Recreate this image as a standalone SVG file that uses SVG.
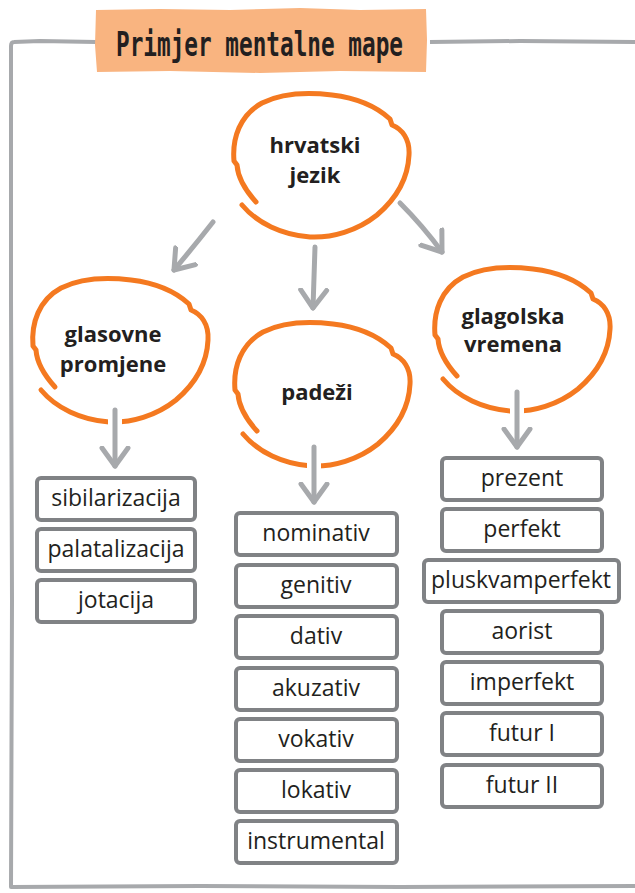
<svg xmlns="http://www.w3.org/2000/svg" width="635" height="893" viewBox="0 0 635 893">
<style>
.frame{fill:none;stroke:#A7A9AC;stroke-width:4;stroke-linejoin:round}
.blob{fill:none;stroke:#F47920;stroke-width:5;stroke-linecap:round;stroke-linejoin:round}
.conn{fill:none;stroke:#A7A9AC;stroke-width:5;stroke-linecap:round}
.halo{fill:none;stroke:#FFFFFF;stroke-width:14}
.box{fill:#FFFFFF;stroke:#808285;stroke-width:4}
.lbl{font-family:"Open Sans","Noto Sans","Liberation Sans",sans-serif;font-size:23px;fill:#231F20;text-anchor:middle}
.nlbl{font-family:"Open Sans","Noto Sans","Liberation Sans",sans-serif;font-size:22px;font-weight:700;fill:#231F20;text-anchor:middle}
.title{font-family:"DejaVu Sans Mono","Liberation Mono",monospace;font-size:33px;font-weight:700;fill:#231F20}
</style>
<defs>
<path id="blobshape" d="M24,109 C14,98 6,86 5,72 L2,68 C0,45 8,22 30,10 C50,0 75,-1 100,2 C125,5 145,14 158,26 L160,32 C170,36 178,46 177,62 C176,85 165,105 145,122 C125,138 100,145 78,144 C50,142 25,130 10,112"/>
<marker id="head" markerUnits="userSpaceOnUse" markerWidth="40" markerHeight="40" refX="20" refY="20" orient="auto" viewBox="0 0 40 40">
<path d="M2,7 L20,20 L2,33" fill="none" stroke="#A7A9AC" stroke-width="5" stroke-linecap="round" stroke-linejoin="round"/>
</marker>
</defs>
<rect width="635" height="893" fill="#FFFFFF"/>
<g id="frame">
<path class="frame" d="M640,42 L520,41 L430,42 M96,42 L40,41 L14,42 Q11,42 11,46 L11,300 L12,600 L11,887 L200,886 L400,887 L640,886"/>
</g>
<g id="title">
<path d="M96,10 L160,9 L230,10 L300,8 L360,10 L426,9 L427,40 L426,72 L340,71 L260,73 L170,71 L97,72 L95,45 Z" fill="#F9B480"/>
<text class="title" x="116" y="56" textLength="287" lengthAdjust="spacingAndGlyphs">Primjer mentalne mape</text>
</g>
<g id="node-hrvatski">
<use href="#blobshape" class="blob" transform="translate(232,93)"/>
<text class="nlbl" x="315" y="153">hrvatski</text>
<text class="nlbl" x="315" y="183">jezik</text>
</g>
<g id="node-glasovne">
<use href="#blobshape" class="blob" transform="translate(31,278)"/>
<text class="nlbl" x="113" y="342">glasovne</text>
<text class="nlbl" x="113" y="372">promjene</text>
</g>
<g id="node-padezi">
<use href="#blobshape" class="blob" transform="translate(233,322)"/>
<text class="nlbl" x="317" y="400">padeži</text>
</g>
<g id="node-glagolska">
<use href="#blobshape" class="blob" transform="translate(433,267)"/>
<text class="nlbl" x="513" y="324">glagolska</text>
<text class="nlbl" x="513" y="352">vremena</text>
</g>
<g id="connectors">
<path class="halo" d="M115,412 L115,440"/>
<path class="halo" d="M314,449 L314,477"/>
<path class="halo" d="M517,394 L517,422"/>
<path class="conn" d="M213,222 Q195,245 174,270" marker-end="url(#head)"/>
<path class="conn" d="M315,247 Q314,280 313,308" marker-end="url(#head)"/>
<path class="conn" d="M400,203 Q423,226 442,252" marker-end="url(#head)"/>
<path class="conn" d="M115,410 L115,466" marker-end="url(#head)"/>
<path class="conn" d="M314,447 L314,502" marker-end="url(#head)"/>
<path class="conn" d="M517,392 L517,447" marker-end="url(#head)"/>
</g>
<g id="box-sibilarizacija"><rect class="box" x="37" y="478" width="158" height="42" rx="4"/><text class="lbl" x="116" y="506">sibilarizacija</text></g>
<g id="box-palatalizacija"><rect class="box" x="37" y="529" width="158" height="42" rx="4"/><text class="lbl" x="116" y="557">palatalizacija</text></g>
<g id="box-jotacija"><rect class="box" x="37" y="580" width="158" height="42" rx="4"/><text class="lbl" x="116" y="608">jotacija</text></g>
<g id="box-nominativ"><rect class="box" x="236" y="513" width="161" height="42" rx="4"/><text class="lbl" x="316" y="541">nominativ</text></g>
<g id="box-genitiv"><rect class="box" x="236" y="565" width="161" height="42" rx="4"/><text class="lbl" x="316" y="593">genitiv</text></g>
<g id="box-dativ"><rect class="box" x="236" y="616" width="161" height="42" rx="4"/><text class="lbl" x="316" y="644">dativ</text></g>
<g id="box-akuzativ"><rect class="box" x="236" y="668" width="161" height="42" rx="4"/><text class="lbl" x="316" y="696">akuzativ</text></g>
<g id="box-vokativ"><rect class="box" x="236" y="719" width="161" height="42" rx="4"/><text class="lbl" x="316" y="747">vokativ</text></g>
<g id="box-lokativ"><rect class="box" x="236" y="770" width="161" height="42" rx="4"/><text class="lbl" x="316" y="798">lokativ</text></g>
<g id="box-instrumental"><rect class="box" x="236" y="821" width="161" height="42" rx="4"/><text class="lbl" x="316" y="849">instrumental</text></g>
<g id="box-prezent"><rect class="box" x="442" y="458" width="160" height="42" rx="4"/><text class="lbl" x="522" y="486">prezent</text></g>
<g id="box-perfekt"><rect class="box" x="442" y="509" width="160" height="42" rx="4"/><text class="lbl" x="522" y="537">perfekt</text></g>
<g id="box-pluskvamperfekt"><rect class="box" x="424" y="560" width="195" height="42" rx="4"/><text class="lbl" x="521" y="588">pluskvamperfekt</text></g>
<g id="box-aorist"><rect class="box" x="442" y="611" width="160" height="42" rx="4"/><text class="lbl" x="522" y="639">aorist</text></g>
<g id="box-imperfekt"><rect class="box" x="442" y="662" width="160" height="42" rx="4"/><text class="lbl" x="522" y="690">imperfekt</text></g>
<g id="box-futurI"><rect class="box" x="442" y="713" width="160" height="42" rx="4"/><text class="lbl" x="522" y="741">futur I</text></g>
<g id="box-futurII"><rect class="box" x="442" y="765" width="160" height="42" rx="4"/><text class="lbl" x="522" y="793">futur II</text></g>
</svg>
